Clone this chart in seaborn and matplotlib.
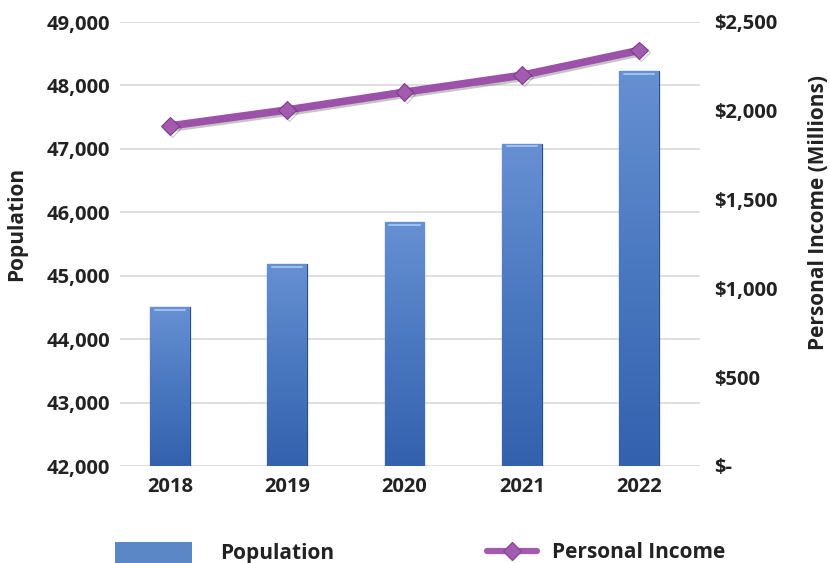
import numpy as np
import pandas as pd
import matplotlib
matplotlib.use("Agg")
import matplotlib.pyplot as plt
import seaborn as sns
from matplotlib.patches import Patch
from matplotlib.lines import Line2D
from matplotlib.ticker import FuncFormatter
from matplotlib.colors import LinearSegmentedColormap
import matplotlib.patheffects as pe

years = ["2018", "2019", "2020", "2021", "2022"]
population = [44500, 45180, 45840, 47080, 48220]
income = [1915, 2005, 2105, 2200, 2340]

df = pd.DataFrame({"Year": years, "Population": population, "Income": income,
                   "pos": np.arange(len(years))})

sns.set_theme(style="white")
plt.rcParams["font.family"] = ["Open Sans", "DejaVu Sans"]
plt.rcParams["font.weight"] = "bold"

W, H = 830, 563
fig = plt.figure(figsize=(W / 100, H / 100), dpi=100)
L, R, T, B = 120, 700, 22, 466
ax = fig.add_axes([L / W, 1 - B / H, (R - L) / W, (B - T) / H])

txt = "#222222"
bar_color = "#4a77bf"
sns.barplot(data=df, x="Year", y="Population", ax=ax, color=bar_color,
            width=0.34, saturation=1, edgecolor="#2c4f86", linewidth=0.9, zorder=3)

# vertical gradient fill clipped to each bar
cmap = LinearSegmentedColormap.from_list("barg", ["#3361ad", "#4a78c0", "#6690d2"])
grad = np.linspace(0, 1, 256).reshape(-1, 1)
for p in list(ax.patches):
    x0, y0 = p.get_x(), p.get_y()
    w, h = p.get_width(), p.get_height()
    im = ax.imshow(grad, cmap=cmap, origin="lower", aspect="auto",
                   extent=[x0, x0 + w, 42000, y0 + h], zorder=3.5)
    im.set_clip_path(p)
    ax.plot([x0 + w * 0.12, x0 + w * 0.88], [y0 + h - 40, y0 + h - 40],
            color="#9cc0ee", linewidth=1.5, zorder=3.6, solid_capstyle="round")

ax.set_ylim(42000, 49000)
ax.set_yticks(np.arange(42000, 49001, 1000))
ax.yaxis.set_major_formatter(FuncFormatter(lambda v, p: f"{int(v):,}"))
ax.set_xlim(-0.426, 4.52)
ax.grid(axis="y", color="#d9d9d9", linewidth=1.2, zorder=0)
ax.set_axisbelow(True)
for s in ax.spines.values():
    s.set_visible(False)
ax.tick_params(axis="both", length=0, labelsize=14.5, colors=txt)
ax.tick_params(axis="y", pad=7)
ax.tick_params(axis="x", pad=8)
ax.set_xlabel("")
ax.set_ylabel("")
plt.setp(ax.get_xticklabels() + ax.get_yticklabels(), fontweight="bold")

ax2 = ax.twinx()
sns.lineplot(data=df, x="pos", y="Income", ax=ax2, color="#9b52a8", linewidth=5.5,
             marker="D", markersize=9, markeredgecolor="#7d3a8a",
             markerfacecolor="#a35bb0", zorder=5,
             path_effects=[pe.SimpleLineShadow(offset=(1.5, -1.5), alpha=0.25),
                           pe.Normal()])
ax2.set_ylim(0, 2500)
ax2.set_yticks(np.arange(0, 2501, 500))
ax2.yaxis.set_major_formatter(FuncFormatter(lambda v, p: "$-" if v == 0 else f"${int(v):,}"))
for s in ax2.spines.values():
    s.set_visible(False)
ax2.tick_params(axis="y", length=0, labelsize=14.5, colors=txt, pad=10)
ax2.set_ylabel("")
ax2.set_xlabel("")
ax2.grid(False)
ax2.set_xlim(-0.426, 4.52)
plt.setp(ax2.get_yticklabels(), fontweight="bold")

fig.text(17 / W, 1 - 224 / H, "Population", rotation=90, ha="center", va="center",
         fontsize=15, fontweight="bold", color=txt)
fig.text(818 / W, 1 - 212 / H, "Personal Income (Millions)", rotation=90,
         ha="center", va="center", fontsize=15, fontweight="bold", color=txt)

leg_y = 1 - 553 / H
leg1 = fig.legend([Patch(facecolor="#5b87c7", edgecolor="none")], ["Population"],
                  loc="center left", bbox_to_anchor=(115 / W, leg_y), frameon=False,
                  borderpad=0, borderaxespad=0, handlelength=3.7, handleheight=1.2,
                  handletextpad=1.35, prop={"size": 15, "weight": "bold"})
for t in leg1.get_texts():
    t.set_color(txt)
leg2 = fig.legend([Line2D([0], [0], color="#a35bb0", linewidth=4.5, marker="D",
                          markersize=9, markeredgecolor="#8e479b")],
                  ["Personal Income"],
                  loc="center left", bbox_to_anchor=(487 / W, leg_y), frameon=False,
                  borderpad=0, borderaxespad=0, handlelength=2.4,
                  handletextpad=0.72, prop={"size": 15, "weight": "bold"})
for t in leg2.get_texts():
    t.set_color(txt)

fig.savefig("out.png", dpi=100)
